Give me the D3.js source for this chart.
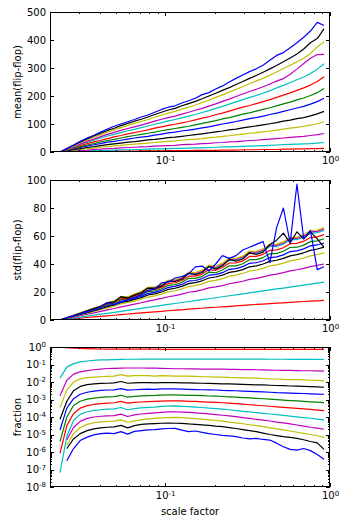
<!DOCTYPE html>
<html>
<head>
<meta charset="utf-8">
<script src="https://cdn.jsdelivr.net/npm/d3@7"></script>
<style>
body{margin:0;background:#fff}
svg{display:block;font-family:"DejaVu Sans",sans-serif}
</style>
</head>
<body>
<script>
// scale factors (x), log spaced
const scale = [0.023,0.0253,0.0278,0.0305,0.0336,0.0369,0.0406,0.0446,0.0490,0.0539,
  0.0592,0.0651,0.0715,0.0786,0.0864,0.0950,0.1044,0.1148,0.1262,0.1387,
  0.1524,0.1676,0.1842,0.2025,0.2226,0.2446,0.2689,0.2956,0.3249,0.3571,
  0.3926,0.4315,0.4743,0.5214,0.5731,0.6300,0.6925,0.7612,0.8367,0.92];

// matplotlib classic cycle, lowest series first
const colors = ["#ff0000","#00bfbf","#bf00bf","#bfbf00","#000000","#0000ff","#008000",
  "#ff0000","#00bfbf","#bf00bf","#bfbf00","#000000","#0000ff"];

// mean(flip-flop)
const mean0 = [0,0,1,1,1,2,2,2,3,3,3,3,4,4,4,4,5,5,5,5,6,6,6,6,7,7,7,8,8,8,9,9,9,10,10,11,11,12,12,13];
const mean1 = [0,1,2,3,4,5,5,6,7,8,8,9,9,10,11,11,12,13,13,14,15,15,16,17,18,18,19,20,21,22,23,24,25,26,27,28,29,30,32,34];
const mean2 = [0,2,4,6,7,9,10,12,13,15,16,17,18,19,21,22,23,24,26,27,28,30,31,33,34,36,37,39,41,42,44,46,48,50,52,54,56,59,62,66];
const mean3 = [0,3,6,9,12,14,17,19,22,24,26,28,30,32,34,36,38,40,42,44,46,48,51,53,56,58,61,64,67,69,72,75,78,82,85,88,92,96,101,108];
const mean4 = [0,4,8,12,16,19,23,26,29,32,35,37,40,43,45,48,51,53,56,59,62,65,68,72,75,79,82,86,90,93,97,101,105,110,114,119,123,129,136,145];
const mean5 = [0,5,11,16,21,26,30,35,38,42,46,50,53,56,60,64,68,71,75,78,82,86,90,95,100,104,109,114,119,123,128,134,139,145,151,157,163,171,180,192];
const mean6 = [0,6,13,19,25,30,36,41,45,50,55,59,63,67,71,76,80,84,88,92,97,102,107,112,118,123,129,135,140,146,152,158,165,172,178,186,193,202,212,227];
const mean7 = [0,7,15,23,30,36,42,48,54,59,65,69,74,79,85,90,95,99,104,109,115,121,126,133,139,146,153,160,166,173,180,187,195,203,211,220,229,239,252,269];
const mean8 = [0,9,18,27,35,42,50,57,63,69,76,81,87,93,99,105,111,116,122,128,134,141,148,156,163,171,179,187,195,202,210,219,229,238,248,258,268,280,295,315];
const mean9 = [0,9,20,29,38,46,55,63,70,77,84,90,96,103,110,117,123,128,135,142,149,156,164,172,181,189,198,207,216,224,233,243,253,262,278,296,316,335,348,349];
const mean10 = [0,11,22,33,43,52,62,71,79,87,95,102,109,116,124,132,139,145,153,160,168,177,185,195,204,214,224,233,244,254,263,274,286,298,310,322,335,352,375,394];
const mean11 = [0,12,24,36,47,57,67,77,85,94,102,110,117,125,134,142,150,156,165,173,181,190,200,210,220,230,241,252,263,273,285,297,309,322,336,350,368,390,405,440];
const mean12 = [0,12,25,38,50,60,71,82,92,100,108,116,125,132,142,152,160,165,175,183,192,205,212,225,236,250,263,275,287,297,310,328,345,355,372,390,410,432,463,452];

// std(flip-flop)
const std0 = [0,0.4,0.9,1.3,1.8,2.2,2.6,3.0,3.4,3.9,4.3,4.7,5.1,5.4,5.8,6.2,6.6,7.0,7.3,7.7,8.1,8.4,8.8,9.1,9.4,9.8,10.1,10.4,10.8,11.1,11.4,11.7,12.0,12.3,12.6,12.9,13.2,13.5,13.7,14.0];
const std1 = [0,0.7,1.4,2.1,2.8,3.5,4.2,4.8,5.5,6.2,6.9,7.6,8.3,9.0,9.7,10.4,11.1,11.8,12.5,13.2,13.8,14.5,15.2,15.9,16.6,17.3,18.0,18.7,19.4,20.1,20.8,21.5,22.2,22.8,23.5,24.2,24.9,25.6,26.3,27.0];
const std2 = [0,1.0,2.1,3.1,4.1,5.1,6.2,7.2,8.2,9.4,10.3,11.3,12.3,13.5,14.4,15.4,16.6,17.4,18.5,19.8,20.5,21.5,22.9,23.6,24.6,25.9,26.7,27.7,29.0,29.7,30.8,32.1,32.8,33.8,35.1,35.9,36.9,38.1,39.0,40.0];
const std3 = [0,1.2,2.5,3.7,4.9,6.2,7.4,8.7,9.8,11.5,12.3,13.5,14.8,16.4,17.2,18.5,20.1,20.9,22.2,23.9,24.6,25.8,27.6,28.3,29.5,31.3,32.0,33.2,35.0,35.7,36.9,38.6,39.4,40.6,42.2,43.1,44.3,45.8,46.8,48.0];
const std4 = [0,1.3,2.7,4.0,5.3,6.7,8.0,9.5,10.7,12.6,13.3,14.7,16.0,17.9,18.7,20.0,21.9,22.7,24.0,26.0,26.7,28.0,30.0,30.7,32.0,34.0,34.7,36.0,38.0,38.7,40.0,41.9,42.7,44.0,45.8,46.7,48.0,49.7,50.7,52.0];
const std5 = [0,1.4,2.8,4.2,5.6,7.1,8.5,10.2,11.3,13.5,14.1,15.5,16.9,19.0,19.7,21.2,23.3,24.0,25.4,27.8,28.2,29.6,32.0,32.4,33.8,36.2,36.7,38.1,40.5,40.9,42.3,44.6,45.1,46.5,48.9,49.4,50.8,53.0,53.6,55.0];
const std6 = [0,1.5,3.0,4.5,6.0,7.4,8.9,10.9,11.9,14.6,14.6,16.4,17.8,20.3,20.8,22.3,24.8,25.3,26.8,29.8,29.7,31.2,34.2,33.7,35.7,38.7,38.7,40.2,43.1,43.1,44.6,47.3,47.6,49.1,51.8,52.0,53.5,56.0,56.5,58.0];
const std7 = [0,1.6,3.1,4.7,6.3,7.8,9.4,11.5,12.5,15.4,15.3,17.2,18.8,21.4,21.9,23.5,26.1,26.6,28.2,31.3,31.3,32.8,36.0,35.5,37.5,40.7,40.7,42.2,45.4,45.4,46.9,49.8,50.1,51.6,54.5,54.7,56.3,58.9,59.4,61.0];
const std8 = [0,1.6,3.3,4.9,6.6,8.2,9.8,12.1,13.1,16.3,16.0,18.1,19.7,22.6,23.0,24.6,27.6,27.9,29.5,33.1,32.8,34.5,38.0,37.2,39.4,42.9,42.7,44.3,47.8,47.6,49.2,52.5,52.5,54.2,57.4,57.4,59.1,62.0,62.4,64.0];
const std9 = [0,1.7,3.3,5.0,6.7,8.3,10.0,12.4,13.3,16.6,16.3,18.3,20.0,23.0,23.3,25.0,28.0,28.3,30.0,33.7,33.3,35.0,38.6,37.7,40.0,43.6,43.3,45.0,48.6,48.3,50.0,53.3,53.3,55.0,58.3,58.3,60.0,63.0,63.3,65.0];
const std10 = [0,1.7,3.4,5.1,6.8,8.5,10.2,12.5,13.5,16.8,16.5,18.6,20.3,23.3,23.7,25.4,28.4,28.8,30.5,34.2,33.8,35.5,39.2,38.3,40.6,44.2,44.0,45.7,49.3,49.1,50.8,54.1,54.2,55.8,59.1,59.2,60.9,64.0,64.3,66.0];
const std11 = [0,1.6,3.2,4.8,6.5,8.1,9.7,12.2,12.9,16.7,15.6,17.8,19.4,22.8,22.6,24.2,27.6,27.5,29.1,33.4,32.3,33.9,38.2,36.3,38.8,43.1,42.0,43.6,48.0,46.8,48.5,54.0,57.0,62.0,55.0,63.0,58.0,63.0,58.0,52.0];
const std12 = [0,1.5,3.0,4.5,6.0,7.5,9.5,12.5,11.0,12.5,14.5,16.0,18.0,21.0,22.0,26.5,27.0,30.0,31.0,33.0,38.0,38.5,35.0,40.0,46.0,44.0,46.0,50.0,52.0,54.0,56.0,41.0,66.0,80.0,55.0,97.0,58.0,64.0,36.0,38.0];

// fraction
const frac0 = [1.0,0.92,0.86,0.82,0.8,0.78,0.77,0.76,0.76,0.75,0.75,0.75,0.75,0.75,0.75,0.74,0.74,0.74,0.74,0.74,0.74,0.74,0.74,0.74,0.74,0.74,0.74,0.74,0.74,0.74,0.74,0.74,0.74,0.74,0.74,0.74,0.74,0.74,0.74,0.74];
const frac1 = [0.0166,0.071,0.112,0.141,0.158,0.17,0.182,0.186,0.19,0.195,0.2,0.2,0.202,0.203,0.204,0.204,0.205,0.205,0.205,0.205,0.205,0.205,0.205,0.205,0.204,0.204,0.204,0.203,0.203,0.202,0.201,0.2,0.2,0.199,0.198,0.197,0.196,0.195,0.194,0.193];
const frac2 = [1.66e-3,1.26e-2,2.8e-2,3.8e-2,4.5e-2,5.0e-2,5.5e-2,5.9e-2,6.0e-2,6.2e-2,6.3e-2,6.3e-2,6.3e-2,6.2e-2,6.2e-2,6.0e-2,5.9e-2,5.7e-2,5.7e-2,5.6e-2,5.6e-2,5.5e-2,5.5e-2,5.4e-2,5.4e-2,5.3e-2,5.2e-2,5.1e-2,5.1e-2,5.0e-2,4.9e-2,4.8e-2,4.7e-2,4.6e-2,4.6e-2,4.5e-2,4.4e-2,4.4e-2,4.3e-2,4.2e-2];
const frac3 = [3.55e-4,3.55e-3,1.0e-2,1.51e-2,1.78e-2,1.9e-2,2.0e-2,2.1e-2,2.19e-2,2.63e-2,2.19e-2,2.29e-2,2.34e-2,2.29e-2,2.19e-2,2.29e-2,2.24e-2,2.19e-2,2.14e-2,2.19e-2,2.09e-2,2.0e-2,2.0e-2,1.91e-2,1.91e-2,1.82e-2,1.78e-2,1.74e-2,1.66e-2,1.66e-2,1.58e-2,1.51e-2,1.48e-2,1.41e-2,1.38e-2,1.35e-2,1.32e-2,1.26e-2,1.23e-2,1.17e-2];
const frac4 = [7.4e-5,7.9e-4,3.2e-3,5.6e-3,7.1e-3,7.9e-3,8.3e-3,8.5e-3,8.9e-3,1.07e-2,8.5e-3,8.9e-3,9.3e-3,9.1e-3,8.9e-3,9.3e-3,9.1e-3,9.1e-3,8.9e-3,8.9e-3,8.7e-3,8.5e-3,8.3e-3,8.1e-3,7.9e-3,7.8e-3,7.6e-3,7.4e-3,7.1e-3,6.9e-3,6.8e-3,6.5e-3,6.3e-3,6.2e-3,5.9e-3,5.8e-3,5.6e-3,5.4e-3,5.2e-3,5.0e-3];
const frac5 = [1.82e-5,3.2e-4,1.12e-3,2.0e-3,2.6e-3,3.0e-3,3.3e-3,3.5e-3,3.55e-3,4.2e-3,3.4e-3,3.6e-3,3.8e-3,3.9e-3,3.8e-3,4.0e-3,4.0e-3,4.0e-3,3.9e-3,3.8e-3,3.7e-3,3.6e-3,3.55e-3,3.5e-3,3.3e-3,3.2e-3,3.16e-3,3.0e-3,2.9e-3,2.8e-3,2.7e-3,2.6e-3,2.45e-3,2.4e-3,2.3e-3,2.24e-3,2.2e-3,2.1e-3,2.04e-3,2.0e-3];
const frac6 = [3.9e-6,1.0e-4,4.5e-4,7.9e-4,1.05e-3,1.2e-3,1.32e-3,1.41e-3,1.45e-3,1.74e-3,1.38e-3,1.51e-3,1.62e-3,1.66e-3,1.7e-3,1.78e-3,1.82e-3,1.82e-3,1.78e-3,1.74e-3,1.7e-3,1.66e-3,1.58e-3,1.55e-3,1.48e-3,1.41e-3,1.35e-3,1.29e-3,1.23e-3,1.17e-3,1.1e-3,1.05e-3,9.8e-4,9.3e-4,8.7e-4,8.3e-4,7.8e-4,7.4e-4,7.1e-4,6.6e-4];
const frac7 = [8.5e-7,3.2e-5,1.58e-4,3.2e-4,4.5e-4,5.2e-4,5.8e-4,6.2e-4,6.5e-4,7.8e-4,6.2e-4,6.8e-4,7.2e-4,7.6e-4,7.8e-4,8.1e-4,8.3e-4,8.5e-4,8.3e-4,7.9e-4,7.8e-4,7.4e-4,7.1e-4,6.8e-4,6.5e-4,6.2e-4,5.8e-4,5.4e-4,5.0e-4,4.7e-4,4.4e-4,4.1e-4,3.8e-4,3.55e-4,3.3e-4,3.1e-4,2.9e-4,2.7e-4,2.5e-4,2.3e-4];
const frac8 = [6.6e-8,7.9e-6,6.3e-5,1.41e-4,2.0e-4,2.4e-4,2.6e-4,2.8e-4,2.9e-4,3.5e-4,2.6e-4,3.0e-4,3.3e-4,3.55e-4,3.7e-4,4.0e-4,4.2e-4,4.3e-4,4.1e-4,3.9e-4,3.7e-4,3.5e-4,3.2e-4,3.0e-4,2.8e-4,2.6e-4,2.3e-4,2.1e-4,1.95e-4,1.78e-4,1.62e-4,1.48e-4,1.35e-4,1.23e-4,1.12e-4,1.02e-4,9.3e-5,8.5e-5,7.6e-5,6.8e-5];
const frac9 = [null,5.0e-6,2.5e-5,5.6e-5,8.3e-5,1.0e-4,1.1e-4,1.17e-4,1.2e-4,1.45e-4,1.07e-4,1.32e-4,1.48e-4,1.62e-4,1.74e-4,1.86e-4,1.95e-4,2.0e-4,1.9e-4,1.82e-4,1.74e-4,1.62e-4,1.51e-4,1.38e-4,1.26e-4,1.15e-4,1.05e-4,9.3e-5,8.3e-5,7.4e-5,6.6e-5,5.9e-5,5.1e-5,4.6e-5,4.0e-5,3.5e-5,3.0e-5,2.6e-5,2.3e-5,2.0e-5];
const frac10 = [null,2.5e-6,1.12e-5,2.5e-5,3.8e-5,4.7e-5,5.2e-5,5.6e-5,5.8e-5,6.9e-5,5.0e-5,6.0e-5,6.9e-5,7.8e-5,8.3e-5,8.9e-5,9.3e-5,9.5e-5,9.1e-5,8.7e-5,8.1e-5,7.6e-5,6.9e-5,6.3e-5,5.8e-5,5.1e-5,4.6e-5,4.1e-5,3.6e-5,3.2e-5,2.8e-5,2.4e-5,2.1e-5,1.82e-5,1.58e-5,1.35e-5,1.17e-5,1.0e-5,8.5e-6,6.9e-6];
const frac11 = [null,1.58e-6,5.6e-6,1.12e-5,1.66e-5,2.1e-5,2.4e-5,2.6e-5,2.75e-5,3.3e-5,2.4e-5,3.2e-5,3.8e-5,4.0e-5,4.2e-5,4.4e-5,4.5e-5,4.4e-5,4.3e-5,4.0e-5,3.8e-5,3.55e-5,3.3e-5,3.0e-5,2.8e-5,2.5e-5,2.2e-5,1.9e-5,1.66e-5,1.45e-5,1.2e-5,1.0e-5,8.7e-6,7.6e-6,6.9e-6,6.0e-6,5.0e-6,4.0e-6,3.3e-6,1.41e-6];
const frac12 = [null,3.2e-7,1.58e-6,4.5e-6,7.1e-6,9.5e-6,1.12e-5,1.2e-5,1.12e-5,1.45e-5,1.05e-5,1.51e-5,1.66e-5,1.82e-5,1.9e-5,2.1e-5,2.2e-5,2.24e-5,1.78e-5,1.45e-5,1.58e-5,1.32e-5,1.12e-5,1.0e-5,8.9e-6,8.3e-6,7.6e-6,6.3e-6,5.6e-6,6.0e-6,5.2e-6,4.8e-6,3.2e-6,2.0e-6,1.41e-6,1.29e-6,1.58e-6,1.2e-6,7.1e-7,3.8e-7];

const meanTicks = [0,100,200,300,400,500];
const stdTicks = [0,20,40,60,80,100];
const fracTicks = [1e0,1e-1,1e-2,1e-3,1e-4,1e-5,1e-6,1e-7,1e-8];
const xTicks = [0.1, 1];

const W = 350, H = 532, left = 50, right = 330, ph = 140;

const svg = d3.select("body").append("svg")
  .attr("width", W).attr("height", H);

const x = d3.scaleLog().domain([0.02, 1]).range([left, right]);
const xMinor = d3.range(2, 10).map(m => m / 100).concat(d3.range(2, 10).map(m => m / 10));

function powLabels(g) {
  g.selectAll(".tick text").each(function(d) {
    const e = Math.round(Math.log10(d));
    const t = d3.select(this).text(null);
    t.append("tspan").text("10");
    t.append("tspan").attr("dy", "-0.5em").style("font-size", "7px").text(e);
  });
}

function panel(top, y, yTicks, yMinor, logY, series, label) {
  const bottom = top + ph;
  const g = svg.append("g");
  const clip = "clip" + top;
  svg.append("clipPath").attr("id", clip).append("rect")
    .attr("x", left).attr("y", top).attr("width", right - left).attr("height", ph);

  const line = d3.line()
    .defined(d => d[1] != null)
    .x(d => x(d[0]))
    .y(d => y(d[1]));

  const lines = g.append("g").attr("clip-path", `url(#${clip})`);
  series.forEach((s, k) => {
    lines.append("path")
      .datum(scale.map((v, i) => [v, s[i]]))
      .attr("fill", "none")
      .attr("stroke", colors[k])
      .attr("stroke-width", 1.2)
      .attr("stroke-linejoin", "round")
      .attr("d", line);
  });

  const ax = (a) => a.style("font-size", "10px").style("font-family", "DejaVu Sans").attr("color", "#000");

  // x axis (bottom with labels, top without)
  const gx = g.append("g").attr("transform", `translate(0,${bottom})`)
    .call(d3.axisBottom(x).tickValues(xTicks).tickSize(-4).tickSizeOuter(0).tickPadding(5));
  ax(gx); gx.select(".domain").remove(); powLabels(gx);
  const gxm = g.append("g").attr("transform", `translate(0,${bottom})`)
    .call(d3.axisBottom(x).tickValues(xMinor).tickSize(-2).tickSizeOuter(0).tickFormat(""));
  gxm.select(".domain").remove();
  [[xTicks, -4], [xMinor, -2]].forEach(([tv, sz]) => {
    const gt = g.append("g").attr("transform", `translate(0,${top})`)
      .call(d3.axisTop(x).tickValues(tv).tickSize(sz).tickSizeOuter(0).tickFormat(""));
    gt.select(".domain").remove();
  });

  // y axis (left with labels, right without)
  const gy = g.append("g").attr("transform", `translate(${left},0)`)
    .call(d3.axisLeft(y).tickValues(yTicks).tickSize(-4).tickSizeOuter(0).tickPadding(4));
  ax(gy); gy.select(".domain").remove();
  if (logY) powLabels(gy);
  const gr = g.append("g").attr("transform", `translate(${right},0)`)
    .call(d3.axisRight(y).tickValues(yTicks).tickSize(-4).tickSizeOuter(0).tickFormat(""));
  gr.select(".domain").remove();
  if (yMinor) {
    [[d3.axisLeft, left], [d3.axisRight, right]].forEach(([fn, px]) => {
      const gm = g.append("g").attr("transform", `translate(${px},0)`)
        .call(fn(y).tickValues(yMinor).tickSize(-2).tickSizeOuter(0).tickFormat(""));
      gm.select(".domain").remove();
    });
  }
  g.selectAll(".tick line").attr("stroke", "#000").attr("shape-rendering", "crispEdges");

  g.append("rect")
    .attr("x", left + 0.5).attr("y", top + 0.5)
    .attr("width", right - left - 1).attr("height", ph - 1)
    .attr("fill", "none").attr("stroke", "#000").attr("stroke-width", 1);

  g.append("text")
    .attr("transform", `translate(21,${top + ph / 2}) rotate(-90)`)
    .attr("text-anchor", "middle")
    .style("font-size", "10px")
    .text(label);
}

const yMean = d3.scaleLinear().domain([0, 500]).range([12 + ph, 12]);
panel(12, yMean, meanTicks, null, false,
  [mean0,mean1,mean2,mean3,mean4,mean5,mean6,mean7,mean8,mean9,mean10,mean11,mean12],
  "mean(flip-flop)");

const yStd = d3.scaleLinear().domain([0, 100]).range([180 + ph, 180]);
panel(180, yStd, stdTicks, null, false,
  [std0,std1,std2,std3,std4,std5,std6,std7,std8,std9,std10,std11,std12],
  "std(flip-flop)");

const yFrac = d3.scaleLog().domain([1e-8, 1]).range([347 + ph, 347]);
const fracMinor = [];
fracTicks.slice(1).forEach(t => d3.range(2, 10).forEach(m => fracMinor.push(m * t)));
panel(347, yFrac, fracTicks, fracMinor, true,
  [frac0,frac1,frac2,frac3,frac4,frac5,frac6,frac7,frac8,frac9,frac10,frac11,frac12],
  "fraction");

svg.append("text")
  .attr("x", (left + right) / 2).attr("y", 515)
  .attr("text-anchor", "middle")
  .style("font-size", "10px")
  .text("scale factor");
</script>
</body>
</html>
